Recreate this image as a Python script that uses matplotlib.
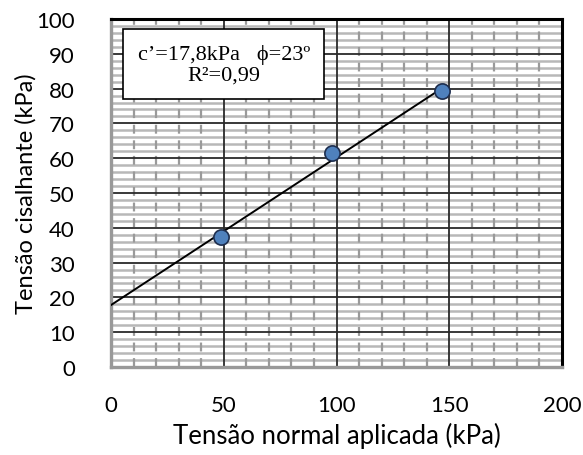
import numpy as np
import matplotlib
matplotlib.use('Agg')
import matplotlib.pyplot as plt
from matplotlib.ticker import MultipleLocator

# dados do ensaio
tensao_normal = [49, 98, 147]
tensao_cisalhante = [37.4, 61.6, 79.2]
coesao = 17.8
phi = 23.0
x_fit = [0, 147]

plt.rcParams['font.family'] = ['Lato', 'DejaVu Sans']

fig = plt.figure(figsize=(5.83, 4.56), dpi=100)
ax = fig.add_axes([111 / 583, 1 - 368 / 456, 451 / 583, 348 / 456])

ax.set_xlim(0, 200)
ax.set_ylim(0, 100)
ax.xaxis.set_major_locator(MultipleLocator(50))
ax.yaxis.set_major_locator(MultipleLocator(10))

# grade (desenhada a mao para controlar a ordem)
y_min = [v for v in np.arange(2, 100, 2) if v % 10 != 0]
x_min = [v for v in np.arange(10, 200, 10) if v % 50 != 0]
ax.hlines(y_min, 0, 200, color='#b8b8b8', lw=1.8, zorder=0.5)
ax.vlines(x_min, 0, 100, color='#9a9a9a', lw=1.6, linestyles=(0, (4, 3)), zorder=0.6)
ax.hlines(np.arange(10, 100, 10), 0, 200, color='#2a2a2a', lw=1.3, zorder=0.7)
ax.vlines([50, 100, 150], 0, 100, color='#2a2a2a', lw=1.3, zorder=0.7)

for s in ['top', 'right']:
    ax.spines[s].set_color('black')
    ax.spines[s].set_linewidth(2.2)
for s in ['left', 'bottom']:
    ax.spines[s].set_color('#999999')
    ax.spines[s].set_linewidth(2.4)

ax.tick_params(which='both', length=0, labelsize=16)
ax.tick_params(axis='x', pad=20)
ax.tick_params(axis='y', pad=26)

# reta de ajuste
xf = np.array(x_fit, dtype=float)
ax.plot(xf, coesao + np.tan(np.radians(phi)) * xf, color='black', lw=1.4, zorder=3)
ax.scatter(tensao_normal, tensao_cisalhante, s=120, color='#4f81bd',
           edgecolor='#1f2f4f', linewidth=1.2, zorder=4)

ax.set_xlabel('Tensão normal aplicada (kPa)', fontsize=18.5, labelpad=5)
ax.set_ylabel('Tensão cisalhante (kPa)', fontsize=17, labelpad=0)

ax.text(0.25, 0.87, 'c’=17,8kPa   ϕ=23º\nR²=0,99', transform=ax.transAxes,
        ha='center', va='center', fontsize=16, linespacing=1.12,
        family=['Liberation Serif', 'DejaVu Serif'], zorder=5,
        bbox=dict(boxstyle='square,pad=0.65', fc='white', ec='black', lw=1.2))

fig.savefig('out.png', dpi=100)
